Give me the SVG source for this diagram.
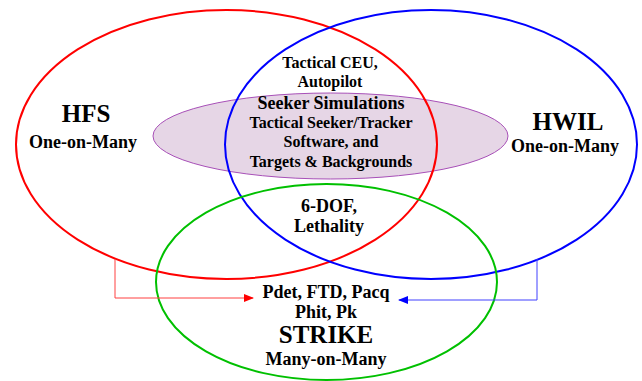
<svg xmlns="http://www.w3.org/2000/svg" width="642" height="381" viewBox="0 0 642 381">
<defs>
<style>
text{font-family:"Liberation Serif","Times New Roman",serif;font-weight:bold;fill:#000;text-anchor:middle}
.s{font-size:16px}
.l{font-size:18px}
.m{font-size:18px}
.b{font-size:25px}
.o{font-size:18px}
.ring{fill:none;stroke-width:2}
</style>
<marker id="ar" markerWidth="10" markerHeight="8" refX="9" refY="4" orient="auto" markerUnits="userSpaceOnUse"><path d="M0,0 L10,4 L0,8 z" fill="#ff0000"/></marker>
<marker id="ab" markerWidth="10" markerHeight="8" refX="9" refY="4" orient="auto" markerUnits="userSpaceOnUse"><path d="M0,0 L10,4 L0,8 z" fill="#0000ff"/></marker>
</defs>
<rect width="642" height="381" fill="#fff"/>
<g id="seeker">
<ellipse cx="330.5" cy="136" rx="177.5" ry="43" fill="#e6d6e6" stroke="#a850b8" stroke-width="1"/>
</g>
<g id="hfs">
<ellipse class="ring" cx="226.5" cy="144.5" rx="210.5" ry="134.5" stroke="#ff0000"/>
<text class="b" x="86" y="122">HFS</text>
<text class="o" x="83" y="148">One-on-Many</text>
</g>
<g id="hwil">
<ellipse class="ring" cx="431" cy="144.5" rx="206" ry="134.5" stroke="#0000ff"/>
<text class="b" x="568" y="130">HWIL</text>
<text class="o" x="565" y="152">One-on-Many</text>
</g>
<g id="strike">
<ellipse class="ring" cx="326.5" cy="282" rx="170.5" ry="98" stroke="#00c000"/>
<text class="l" x="326" y="298">Pdet, FTD, Pacq</text>
<text class="l" x="326" y="318">Phit, Pk</text>
<text class="b" x="326" y="343">STRIKE</text>
<text class="l" x="326" y="365">Many-on-Many</text>
</g>
<g id="labels">
<text class="s" x="330" y="68">Tactical CEU,</text>
<text class="s" x="330" y="87">Autopilot</text>
<text class="m" x="331" y="109">Seeker Simulations</text>
<text class="s" x="331" y="128">Tactical Seeker/Tracker</text>
<text class="s" x="331" y="147">Software, and</text>
<text class="s" x="331" y="167">Targets &amp; Backgrounds</text>
<text class="l" x="329" y="212">6-DOF,</text>
<text class="l" x="329" y="232">Lethality</text>
</g>
<g id="connectors" fill="none" stroke-width="1">
<path d="M115,259 V298 H253" stroke="#ff4040" marker-end="url(#ar)"/>
<path d="M537,259 V300 H399" stroke="#4040ff" marker-end="url(#ab)"/>
</g>
</svg>
